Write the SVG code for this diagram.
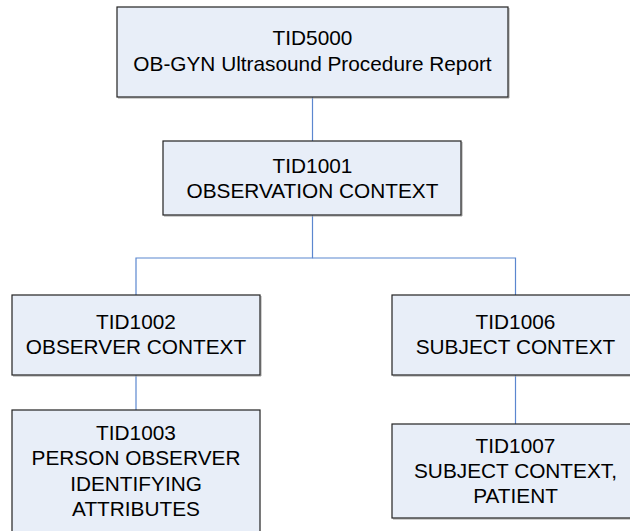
<svg xmlns="http://www.w3.org/2000/svg" width="630" height="531" viewBox="0 0 630 531">
<style>
.box{fill:#E8EEF8;stroke:#222222;stroke-width:1.2}
.shadow{fill:none;stroke:#A0A0A0;stroke-width:1}
.lbl{font-family:"Liberation Sans",Arial,sans-serif;font-size:20.8px;fill:#000000;text-anchor:middle}
.conn{fill:none;stroke:#5B87CF;stroke-width:1.2}
</style>
<rect width="630" height="531" fill="#FFFFFF"/>
<g id="connectors">
<line class="conn" x1="312.5" y1="97" x2="312.5" y2="141"/>
<polyline class="conn" points="312.5,215 312.5,258 136,258 136,295"/>
<polyline class="conn" points="312.5,258 515.5,258 515.5,295"/>
<line class="conn" x1="136" y1="375" x2="136" y2="410"/>
<line class="conn" x1="515.5" y1="375" x2="515.5" y2="424"/>
</g>
<g id="tid5000">
<polyline class="shadow" points="118,98 509,98 509,8"/>
<rect class="box" x="117" y="7" width="391" height="90"/>
<text class="lbl" x="312.5" y="45">TID5000</text>
<text class="lbl" x="312.5" y="70.5">OB-GYN Ultrasound Procedure Report</text>
</g>
<g id="tid1001">
<polyline class="shadow" points="164,216 462,216 462,142"/>
<rect class="box" x="163" y="141" width="298" height="74"/>
<text class="lbl" x="312.5" y="172.7">TID1001</text>
<text class="lbl" x="312.5" y="198.3">OBSERVATION CONTEXT</text>
</g>
<g id="tid1002">
<polyline class="shadow" points="13,376 261,376 261,296"/>
<rect class="box" x="12" y="295" width="248" height="80"/>
<text class="lbl" x="136" y="329.3">TID1002</text>
<text class="lbl" x="136" y="354.3">OBSERVER CONTEXT</text>
</g>
<g id="tid1006">
<polyline class="shadow" points="393,376 641,376"/>
<rect class="box" x="392" y="295" width="248" height="80"/>
<text class="lbl" x="515.5" y="329.3">TID1006</text>
<text class="lbl" x="515.5" y="354.3">SUBJECT CONTEXT</text>
</g>
<g id="tid1003">
<rect class="box" x="12" y="410" width="248" height="130"/>
<text class="lbl" x="136" y="440">TID1003</text>
<text class="lbl" x="136" y="465.2">PERSON OBSERVER</text>
<text class="lbl" x="136" y="490.6">IDENTIFYING</text>
<text class="lbl" x="136" y="515.8">ATTRIBUTES</text>
</g>
<g id="tid1007">
<polyline class="shadow" points="393,519 641,519"/>
<rect class="box" x="392" y="424" width="248" height="94"/>
<text class="lbl" x="515.5" y="453.3">TID1007</text>
<text class="lbl" x="515.5" y="478.3">SUBJECT CONTEXT,</text>
<text class="lbl" x="515.5" y="503.3">PATIENT</text>
</g>
</svg>
